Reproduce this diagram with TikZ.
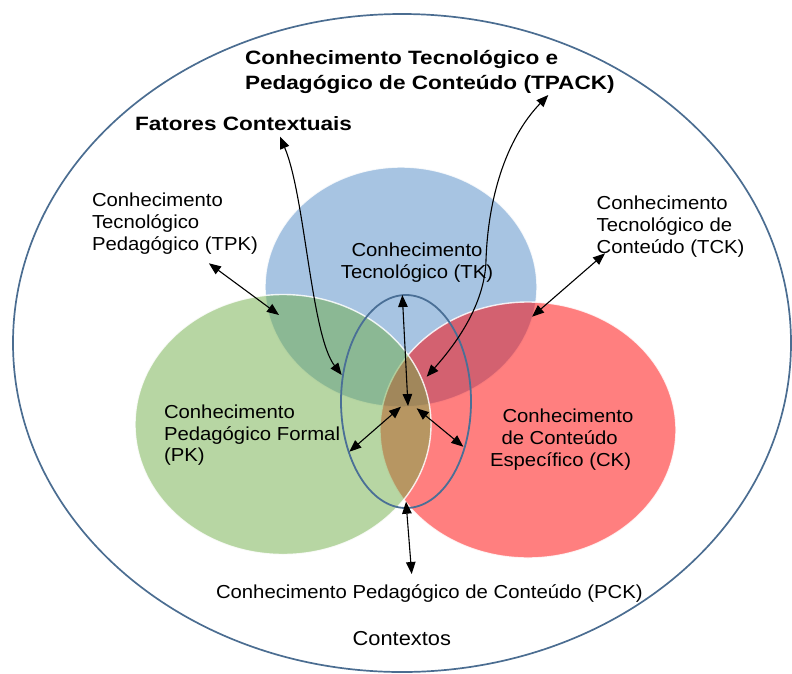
\documentclass[tikz,border=0pt]{standalone}
\usepackage{fontspec}
\setmainfont{Liberation Sans}
\newfontfamily\labelfont[FakeStretch=1.08]{Liberation Sans}
\newfontfamily\titlefont[FakeStretch=1.17]{Liberation Sans}
\usetikzlibrary{arrows.meta}

\definecolor{tkblue}{HTML}{4F89C5}
\definecolor{ckred}{HTML}{FF0000}
\definecolor{pkgreen}{HTML}{70AD47}
\definecolor{ringblue}{HTML}{4B6D91}
\definecolor{lensblue}{HTML}{4A6F96}

\begin{document}
\begin{tikzpicture}[x=1pt,y=-1pt,
  every node/.style={inner sep=0pt, outer sep=0pt},
  % multi-line labels are placed by the baseline of their last line
  lbl/.style={font=\fontsize{18.8pt}{21.7pt}\selectfont\labelfont, align=left, anchor=base west},
  ttl/.style={font=\fontsize{19.3pt}{25.3pt}\selectfont\titlefont\bfseries, align=left, anchor=base west},
  knowledge/.style={draw=white, line width=1.4pt, fill opacity=0.5, draw opacity=0.85},
  link/.style={line width=1.1pt, {Triangle[length=12pt,width=9.5pt]}-{Triangle[length=12pt,width=9.5pt]}},
]
\useasboundingbox (0,0) rectangle (792,673);

% context ring
\draw[ringblue, line width=1.7pt] (402,343) ellipse [x radius=389, y radius=329];

% the three knowledge domains
\fill[tkblue, knowledge] (401,287) ellipse [x radius=136, y radius=120];
\fill[ckred, knowledge] (528,430) ellipse [x radius=148, y radius=128];
\fill[pkgreen, knowledge] (283,424.5) ellipse [x radius=148, y radius=130];

% TPACK lens
\draw[lensblue, line width=1.8pt] (406,401.5) ellipse [x radius=65, y radius=106.5];

% labels
\node[ttl] (tpack) at (245,89.3) {Conhecimento Tecnológico e\\Pedagógico de Conteúdo (TPACK)};
\node[ttl] (fatores) at (135,130) {Fatores Contextuais};
\node[lbl] (tpk) at (92,250) {Conhecimento\\Tecnológico\\Pedagógico (TPK)};
\node[lbl] (tck) at (596.7,253.3) {Conhecimento\\Tecnológico de\\Conteúdo (TCK)};
\node[lbl, align=center, anchor=base] (tk) at (417,278.3) {Conhecimento\\Tecnológico (TK)};
\node[lbl] (pk) at (164,461.7) {Conhecimento\\Pedagógico Formal\\(PK)};
\node[lbl] (ck) at (490,466) {\hspace*{12.5pt}Conhecimento\\\hspace*{11.5pt}de Conteúdo\\Específico (CK)};
\node[lbl] (pck) at (216,598) {Conhecimento Pedagógico de Conteúdo (PCK)};
\node[lbl, font=\fontsize{20.2pt}{23pt}\selectfont\labelfont] (ctx) at (352.7,645.7) {Contextos};

% connector end points
\coordinate (tpkEnd) at (208.9,263.3);
\coordinate (tpkIn) at (279,315);
\coordinate (tckEnd) at (605,253.3);
\coordinate (tckIn) at (532,316.7);
\coordinate (fatEnd) at (280,136.7);
\coordinate (fatIn) at (341.7,375);
\coordinate (tpackEnd) at (548.3,95);
\coordinate (tpackMid) at (486,260);
\coordinate (tpackIn) at (426.7,376.7);
\coordinate (hubUp) at (408,406);
\coordinate (hubL) at (401,406.7);
\coordinate (hubR) at (416.7,408.3);
\coordinate (lensTop) at (402.3,295);
\coordinate (lensL) at (349.3,451.7);
\coordinate (lensR) at (463.3,446.7);
\coordinate (lensBot) at (406,501.7);
\coordinate (pckEnd) at (411.7,574);

% connectors
\draw[link] (tpkEnd) -- (tpkIn);
\draw[link] (tckEnd) -- (tckIn);
\draw[link] (fatEnd) .. controls (305,195) and (311,335) .. (fatIn);
\draw[link] (tpackEnd) .. controls (505,140) and (488,200) .. (tpackMid)
  .. controls (485,305) and (455,345) .. (tpackIn);
\draw[link] (hubUp) -- (lensTop);
\draw[link] (hubL) -- (lensL);
\draw[link] (hubR) -- (lensR);
\draw[link] (lensBot) -- (pckEnd);
\end{tikzpicture}
\end{document}
